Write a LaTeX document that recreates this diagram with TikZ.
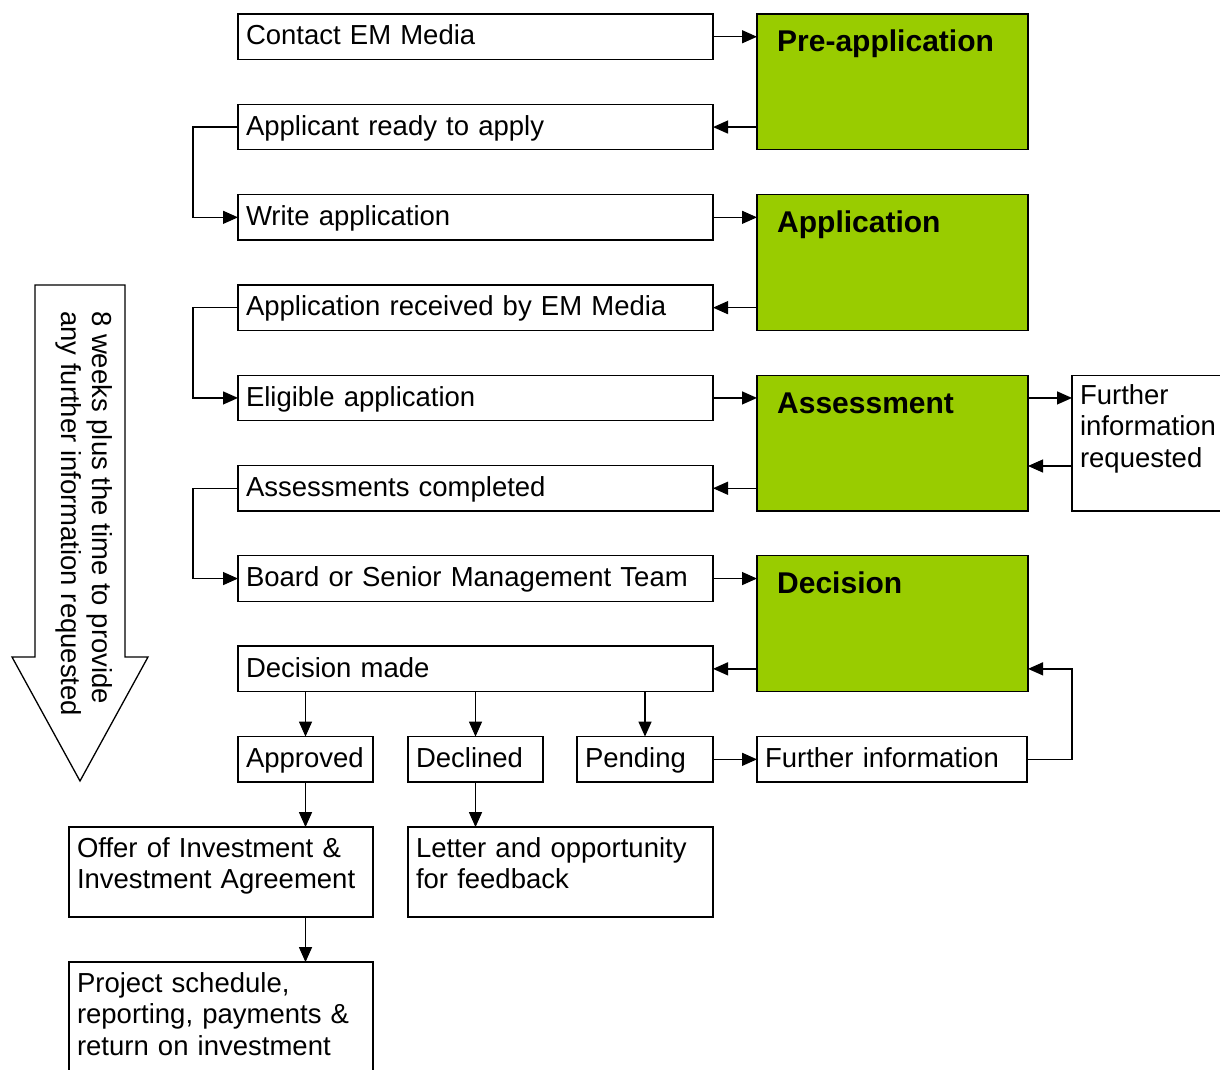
\documentclass[tikz,border=0pt]{standalone}
\usepackage{fontspec}
\setmainfont{Liberation Sans}
\usetikzlibrary{positioning, arrows.meta}
\definecolor{phasegreen}{HTML}{99CC00}

\begin{document}
\begin{tikzpicture}[
    x=1pt, y=-1pt,
    taskbox/.style={draw, line width=1.3pt, fill=white, align=left, inner xsep=8pt, inner ysep=0pt, outer sep=0pt, font=\fontsize{27.5}{31.7}\selectfont, text height=31pt, text depth=14.5pt, text width=#1},
    taskbox/.default=459pt,
    phase/.style={draw, line width=1.3pt, fill=phasegreen, minimum width=271pt, minimum height=135.8pt, inner sep=0pt, outer sep=0pt},
    phaselbl/.style={anchor=base west, inner sep=0pt, xshift=20pt, yshift=-38pt, font=\fontsize{30}{36}\selectfont\bfseries},
    arr/.style={-{Triangle[length=15pt, width=13pt]}, line width=1.3pt},
  ]
    \useasboundingbox (0,0) rectangle (1220,1070);
    \clip (0,0) rectangle (1220,1070);

    \node[taskbox, anchor=north west] (contact) at (238,14) {Contact EM Media};
    \node[taskbox, below=44.8pt of contact] (ready) {Applicant ready to apply};
    \node[taskbox, below=44.8pt of ready] (write) {Write application};
    \node[taskbox, below=44.8pt of write] (received) {Application received by EM Media};
    \node[taskbox, below=44.8pt of received] (eligible) {Eligible application};
    \node[taskbox, below=44.8pt of eligible] (assessed) {Assessments completed};
    \node[taskbox, below=44.8pt of assessed] (board) {Board or Senior Management Team};
    \node[taskbox, below=44.8pt of board] (made) {Decision made};

    \node[phase, right=44pt of contact.north east, anchor=north west, label={[phaselbl]north west:Pre-application}] (pre) {};
    \node[phase, right=44pt of write.north east, anchor=north west, label={[phaselbl]north west:Application}] (app) {};
    \node[phase, right=44pt of eligible.north east, anchor=north west, label={[phaselbl]north west:Assessment}] (assess) {};
    \node[phase, right=44pt of board.north east, anchor=north west, label={[phaselbl]north west:Decision}] (decision) {};

    \node[taskbox=200pt, right=44pt of assess.north east, anchor=north west, text height=29pt, text depth=106.8pt] (request) {Further\\information\\requested};

    \node[taskbox=119pt, below=45pt of made.south west, anchor=north west] (approved) {Approved};
    \node[taskbox=119pt, right=35pt of approved] (declined) {Declined};
    \node[taskbox=120pt, right=34pt of declined] (pending) {Pending};
    \node[taskbox=254pt, right=44pt of pending] (further) {Further information};

    \node[taskbox=288pt, below=45pt of approved.south east, anchor=north east, text height=30pt, text depth=60pt] (offer) {Offer of Investment \&\\Investment Agreement};
    \node[taskbox=289pt, below=45pt of declined.south west, anchor=north west, text height=30pt, text depth=60pt] (letter) {Letter and opportunity\\for feedback};
    \node[taskbox=288pt, below=45pt of offer, text height=30pt, text depth=100pt] (project) {Project schedule,\\reporting, payments \&\\return on investment};

    \draw[arr] (contact) -- (pre.west |- contact);
    \draw[arr] (pre.west |- ready) -- (ready);
    \draw[arr] (ready.west) -- ++(-45,0) |- (write);
    \draw[arr] (write) -- (app.west |- write);
    \draw[arr] (app.west |- received) -- (received);
    \draw[arr] (received.west) -- ++(-45,0) |- (eligible);
    \draw[arr] (eligible) -- (assess.west |- eligible);
    \draw[arr] (assess.west |- assessed) -- (assessed);
    \draw[arr] (assessed.west) -- ++(-45,0) |- (board);
    \draw[arr] (board) -- (decision.west |- board);
    \draw[arr] (decision.west |- made) -- (made);

    \draw[arr] (assess.east |- eligible) -- (request.west |- eligible);
    \draw[arr] ([yshift=45pt]request.south west) -- ([yshift=45pt]assess.south east);

    \draw[arr] (made.south -| approved) -- (approved);
    \draw[arr] (made.south -| declined) -- (declined);
    \draw[arr] (made.south -| pending) -- (pending);
    \draw[arr] (pending) -- (further);
    \draw[arr] (further.east) -- ++(45,0) |- (decision.east |- made);
    \draw[arr] (approved) -- (offer.north -| approved);
    \draw[arr] (declined) -- (letter.north -| declined);
    \draw[arr] (offer.south -| approved) -- (project.north -| approved);

    \draw[line width=1.3pt, fill=white] (35,285) -- (125,285) -- (125,657) -- (148,657) -- (80,781) -- (12,657) -- (35,657) -- cycle;
    \node[rotate=-90, anchor=north west, align=left, inner sep=0pt, font=\fontsize{27.5}{31.7}\selectfont] (duration) at (113,311) {8 weeks plus the time to provide\\any further information requested};
  \end{tikzpicture}
\end{document}
